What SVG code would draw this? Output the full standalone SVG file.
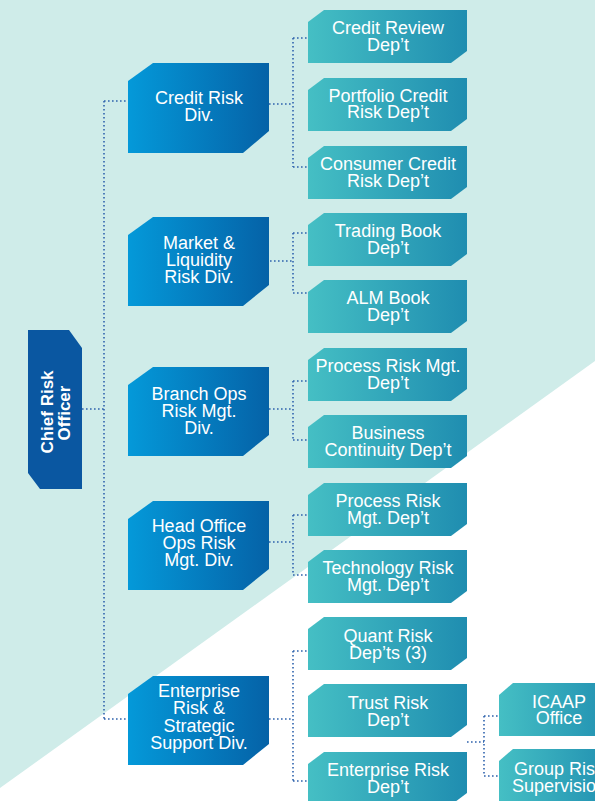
<svg xmlns="http://www.w3.org/2000/svg" width="595" height="801" viewBox="0 0 595 801">
<defs>
<linearGradient id="gDiv" x1="0" y1="0" x2="1" y2="0">
<stop offset="0" stop-color="#0499d9"/>
<stop offset="1" stop-color="#0562a7"/>
</linearGradient>
<linearGradient id="gDep" x1="0" y1="0" x2="1" y2="0">
<stop offset="0" stop-color="#45bfc4"/>
<stop offset="1" stop-color="#1f8db0"/>
</linearGradient>
<style>
.div{fill:url(#gDiv)}
.dep{fill:url(#gDep)}
.t{font-family:"Liberation Sans",Arial,sans-serif;font-size:18px;fill:#ffffff;text-anchor:middle}
.b{font-weight:bold;font-size:17px}
.c{fill:none;stroke:#2f63ad;stroke-width:1.6;stroke-dasharray:1.6 2.4}
</style>
</defs>
<rect x="0" y="0" width="595" height="801" fill="#ffffff"/>
<polygon points="0,0 595,0 595,361 0,788" fill="#cfece9"/>

<g id="connectors">
<path class="c" d="M82,409H104M104,101V719M104,101H126M104,719H126"/>
<path class="c" d="M269,104H293M293,38V167M293,38H308M293,167H308"/>
<path class="c" d="M270,261H293M293,233V293M293,233H308M293,293H308"/>
<path class="c" d="M269,409H293M293,381V440M293,381H308M293,440H308"/>
<path class="c" d="M269,542H293M293,515V575M293,515H308M293,575H308"/>
<path class="c" d="M269,719H293M293,651V781M293,651H308M293,781H308"/>
<path class="c" d="M467,742H484M484,716V776M484,716H499M484,776H499"/>
</g>

<g id="cro">
<polygon points="28,330 69,330 82,348 82,489 40,489 28,473" fill="#0a57a1"/>
<text class="t b" transform="translate(53,412) rotate(-90)">Chief Risk</text>
<text class="t b" transform="translate(70,413) rotate(-90)">Officer</text>
</g>

<g id="div-credit">
<path class="div" d="M128,81L153,63H269V131L243,153H128Z"/>
<text class="t" x="199" y="104">Credit Risk</text>
<text class="t" x="199" y="121">Div.</text>
</g>
<g id="div-market">
<path class="div" d="M128,235L153,217H269V285L243,306H128Z"/>
<text class="t" x="199" y="249">Market &amp;</text>
<text class="t" x="199" y="266">Liquidity</text>
<text class="t" x="199" y="283">Risk Div.</text>
</g>
<g id="div-branch">
<path class="div" d="M128,385L153,367H269V435L243,456H128Z"/>
<text class="t" x="199" y="400">Branch Ops</text>
<text class="t" x="199" y="417">Risk Mgt.</text>
<text class="t" x="199" y="434">Div.</text>
</g>
<g id="div-head">
<path class="div" d="M128,519L153,501H269V569L243,590H128Z"/>
<text class="t" x="199" y="532">Head Office</text>
<text class="t" x="199" y="549">Ops Risk</text>
<text class="t" x="199" y="566">Mgt. Div.</text>
</g>
<g id="div-enterprise">
<path class="div" d="M128,694L153,676H269V744L243,765H128Z"/>
<text class="t" x="199" y="697">Enterprise</text>
<text class="t" x="199" y="714">Risk &amp;</text>
<text class="t" x="199" y="732">Strategic</text>
<text class="t" x="199" y="749">Support Div.</text>
</g>

<g id="dep-credit-review">
<path class="dep" d="M308,22L324,10H467V51L451,63H308Z"/>
<text class="t" x="388" y="34">Credit Review</text>
<text class="t" x="388" y="51">Dep’t</text>
</g>
<g id="dep-portfolio">
<path class="dep" d="M308,90L324,78H467V119L451,131H308Z"/>
<text class="t" x="388" y="102">Portfolio Credit</text>
<text class="t" x="388" y="118">Risk Dep’t</text>
</g>
<g id="dep-consumer">
<path class="dep" d="M308,158L324,146H467V187L451,199H308Z"/>
<text class="t" x="388" y="170">Consumer Credit</text>
<text class="t" x="388" y="187">Risk Dep’t</text>
</g>
<g id="dep-trading">
<path class="dep" d="M308,225L324,213H467V254L451,266H308Z"/>
<text class="t" x="388" y="237">Trading Book</text>
<text class="t" x="388" y="254">Dep’t</text>
</g>
<g id="dep-alm">
<path class="dep" d="M308,292L324,280H467V321L451,333H308Z"/>
<text class="t" x="388" y="304">ALM Book</text>
<text class="t" x="388" y="321">Dep’t</text>
</g>
<g id="dep-process-branch">
<path class="dep" d="M308,360L324,348H467V389L451,401H308Z"/>
<text class="t" x="388" y="372">Process Risk Mgt.</text>
<text class="t" x="388" y="389">Dep’t</text>
</g>
<g id="dep-continuity">
<path class="dep" d="M308,427L324,415H467V456L451,468H308Z"/>
<text class="t" x="388" y="439">Business</text>
<text class="t" x="388" y="456">Continuity Dep’t</text>
</g>
<g id="dep-process-head">
<path class="dep" d="M308,495L324,483H467V524L451,536H308Z"/>
<text class="t" x="388" y="507">Process Risk</text>
<text class="t" x="388" y="524">Mgt. Dep’t</text>
</g>
<g id="dep-technology">
<path class="dep" d="M308,562L324,550H467V591L451,603H308Z"/>
<text class="t" x="388" y="574">Technology Risk</text>
<text class="t" x="388" y="591">Mgt. Dep’t</text>
</g>
<g id="dep-quant">
<path class="dep" d="M308,629L324,617H467V658L451,670H308Z"/>
<text class="t" x="388" y="642">Quant Risk</text>
<text class="t" x="388" y="659">Dep’ts (3)</text>
</g>
<g id="dep-trust">
<path class="dep" d="M308,696L324,684H467V725L451,737H308Z"/>
<text class="t" x="388" y="709">Trust Risk</text>
<text class="t" x="388" y="726">Dep’t</text>
</g>
<g id="dep-enterprise">
<path class="dep" d="M308,764L324,752H467V793L451,805H308Z"/>
<text class="t" x="388" y="776">Enterprise Risk</text>
<text class="t" x="388" y="793">Dep’t</text>
</g>
<g id="off-icaap">
<path class="dep" d="M499,695L513,683H619V724L603,736H499Z"/>
<text class="t" x="559" y="708">ICAAP</text>
<text class="t" x="559" y="724">Office</text>
</g>
<g id="off-group">
<path class="dep" d="M499,761L513,749H619V790L603,802H499Z"/>
<text class="t" x="559" y="775">Group Risk</text>
<text class="t" x="559" y="792">Supervision</text>
</g>
</svg>
